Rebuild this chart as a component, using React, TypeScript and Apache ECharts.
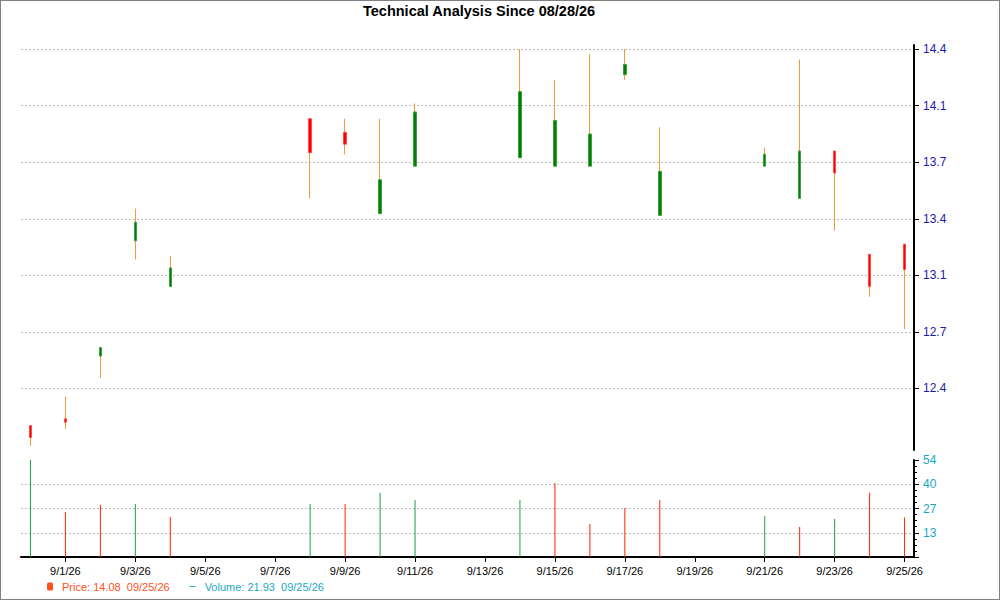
import { useEffect, useRef } from 'react';
import * as echarts from 'echarts';

const chartTitle = 'Technical Analysis Since 08/28/26';

const dates = [
    '2026-08-31', '2026-09-01', '2026-09-02', '2026-09-03', '2026-09-04',
    '2026-09-08', '2026-09-09', '2026-09-10', '2026-09-11', '2026-09-14',
    '2026-09-15', '2026-09-16', '2026-09-17', '2026-09-18', '2026-09-21',
    '2026-09-22', '2026-09-23', '2026-09-24', '2026-09-25'
];
const opens = [12.18, 12.22, 12.59, 13.27, 13.00, 13.99, 13.91, 13.43, 13.71, 13.76, 13.71, 13.71, 14.25, 13.42, 13.71, 13.52, 13.80, 13.19, 13.25];
const closes = [12.11, 12.20, 12.64, 13.38, 13.11, 13.79, 13.84, 13.63, 14.03, 14.15, 13.98, 13.90, 14.31, 13.68, 13.78, 13.80, 13.67, 13.00, 13.10];
const lows = [12.06, 12.16, 12.46, 13.16, 13.00, 13.52, 13.78, 13.43, 13.71, 13.76, 13.71, 13.71, 14.22, 13.42, 13.71, 13.52, 13.33, 12.94, 12.75];
const highs = [12.18, 12.35, 12.64, 13.46, 13.18, 13.99, 13.99, 13.99, 14.08, 14.40, 14.22, 14.37, 14.40, 13.94, 13.82, 14.34, 13.80, 13.19, 13.25];
const volumes = [54, 25.1, 29.0, 29.5, 22.3, 29.5, 29.5, 35.8, 31.7, 31.7, 41.2, 18.4, 27.3, 31.7, 22.8, 16.7, 21.2, 35.8, 21.93];
const volumeUp = [true, false, false, true, false, true, false, true, true, true, false, false, false, false, true, false, true, false, false];

const dateTicks = [
    '2026-09-01', '2026-09-03', '2026-09-05', '2026-09-07', '2026-09-09',
    '2026-09-11', '2026-09-13', '2026-09-15', '2026-09-17', '2026-09-19',
    '2026-09-21', '2026-09-23', '2026-09-25'
];
const priceTicks = [12.4, 12.7333, 13.0667, 13.4, 13.7333, 14.0667, 14.4];

const lastPrice = 14.08;
const lastVolume = 21.93;
const lastDate = '09/25/26';

const DAY = 86400000;
const FONT = 'Liberation Sans';

const toTime = (s: string) => {
    const [y, m, d] = s.split('-').map(Number);
    return new Date(y, m - 1, d).getTime();
};

const App = () => {
    const chartRef = useRef<HTMLDivElement>(null);

    useEffect(() => {
        if (!chartRef.current) return;
        const chart = echarts.init(chartRef.current, undefined, { renderer: 'svg' });

        const xMin = toTime(dates[0]) - 0.27 * DAY;
        const xMax = toTime(dates[dates.length - 1]) + 0.27 * DAY;
        const tickTimes = dateTicks.map(toTime);

        const gridLine = { show: true, lineStyle: { color: '#bdbdbd', type: [2, 2], width: 1 } };

        const option: echarts.EChartsOption = {
            animation: false,
            backgroundColor: '#ffffff',
            title: {
                text: chartTitle,
                left: 363,
                top: 3,
                padding: 0,
                textStyle: { fontFamily: FONT, fontSize: 14.5, fontWeight: 'bold', color: '#000' }
            },
            legend: {
                left: 47,
                top: 581,
                padding: 0,
                itemWidth: 6,
                itemHeight: 8,
                itemGap: 20,
                selectedMode: false,
                textStyle: { fontFamily: FONT, fontSize: 11, padding: [0, 0, 0, 4] },
                formatter: (name: string) => name === 'Price'
                    ? `Price: ${lastPrice.toFixed(2)}  ${lastDate}`
                    : `Volume: ${lastVolume.toFixed(2)}  ${lastDate}`,
                data: [
                    {
                        name: 'Price', icon: 'roundRect',
                        itemStyle: { color: '#ff5020', borderColor: '#ff5020', borderWidth: 0 },
                        textStyle: { color: '#ff5020' }
                    },
                    {
                        name: 'Volume', icon: 'path://M0,0H10V1.6H0Z',
                        itemStyle: { color: '#1aa9c0', borderWidth: 0 },
                        textStyle: { color: '#1aa9c0' }
                    }
                ]
            },
            graphic: [{
                type: 'rect',
                silent: true,
                z: 100,
                shape: { x: 0, y: 0, width: 1000, height: 600 },
                style: { fill: 'none', stroke: '#808080', lineWidth: 2 }
            }],
            grid: [
                { left: 21, right: 86, top: 45, height: 405 },
                { left: 21, right: 86, top: 460, height: 97 }
            ],
            xAxis: [
                { type: 'value', gridIndex: 0, min: xMin, max: xMax, show: false },
                {
                    type: 'value', gridIndex: 1, min: xMin, max: xMax,
                    axisLine: { show: true, lineStyle: { color: '#000', width: 2 } },
                    axisTick: { show: true, length: 5, customValues: tickTimes, lineStyle: { color: '#000' } },
                    axisLabel: {
                        customValues: tickTimes,
                        margin: 8,
                        color: '#000',
                        fontFamily: FONT,
                        fontSize: 11,
                        formatter: (v: number) => {
                            const d = new Date(v);
                            return `${d.getMonth() + 1}/${d.getDate()}/${String(d.getFullYear()).slice(2)}`;
                        }
                    },
                    splitLine: { show: false }
                }
            ],
            yAxis: [
                {
                    type: 'value', gridIndex: 0, position: 'right',
                    min: 12.036, max: 14.425,
                    axisLine: { show: true, lineStyle: { color: '#000', width: 2 } },
                    axisTick: { show: true, length: 5, customValues: priceTicks, lineStyle: { color: '#000' } },
                    axisLabel: {
                        customValues: priceTicks,
                        margin: 9,
                        color: '#1a1aa8',
                        fontFamily: FONT,
                        fontSize: 12,
                        formatter: (v: number) => v.toFixed(1)
                    },
                    splitLine: gridLine
                },
                {
                    type: 'value', gridIndex: 1, position: 'right',
                    min: 0, max: 54, interval: 13.5,
                    axisLine: { show: true, lineStyle: { color: '#000', width: 2 } },
                    axisTick: { show: true, length: 5, lineStyle: { color: '#000' } },
                    minorTick: { show: true, splitNumber: 4, length: 3, lineStyle: { color: '#000' } },
                    axisLabel: {
                        showMinLabel: false,
                        margin: 9,
                        color: '#1aa9c0',
                        fontFamily: FONT,
                        fontSize: 12,
                        formatter: (v: number) => String(Math.floor(v))
                    },
                    splitLine: { ...gridLine, showMaxLine: false }
                }
            ],
            series: [
                {
                    name: 'wick',
                    type: 'candlestick',
                    xAxisIndex: 0,
                    yAxisIndex: 0,
                    barWidth: 1,
                    itemStyle: {
                        color: '#f29a34', color0: '#f29a34',
                        borderColor: '#f29a34', borderColor0: '#f29a34', borderWidth: 1
                    },
                    data: dates.map((d, i) => [toTime(d), opens[i], closes[i], lows[i], highs[i]])
                },
                {
                    name: 'Price',
                    type: 'candlestick',
                    xAxisIndex: 0,
                    yAxisIndex: 0,
                    barWidth: 3,
                    itemStyle: {
                        color: '#008000', color0: '#ff0000',
                        borderColor: '#3f9f3f', borderColor0: '#ff4a4a', borderWidth: 1
                    },
                    data: dates.map((d, i) => [
                        toTime(d), opens[i], closes[i],
                        Math.min(opens[i], closes[i]), Math.max(opens[i], closes[i])
                    ])
                },
                {
                    name: 'Volume',
                    type: 'bar',
                    xAxisIndex: 1,
                    yAxisIndex: 1,
                    barWidth: 1,
                    data: dates.map((d, i) => ({
                        value: [toTime(d), volumes[i]],
                        itemStyle: { color: volumeUp[i] ? '#1ea03c' : '#ff2000' }
                    }))
                }
            ]
        };

        chart.setOption(option);
        return () => chart.dispose();
    }, []);

    return <div ref={chartRef} style={{ position: 'fixed', left: 0, top: 0, width: 1000, height: 600 }} />;
};

export default App;
